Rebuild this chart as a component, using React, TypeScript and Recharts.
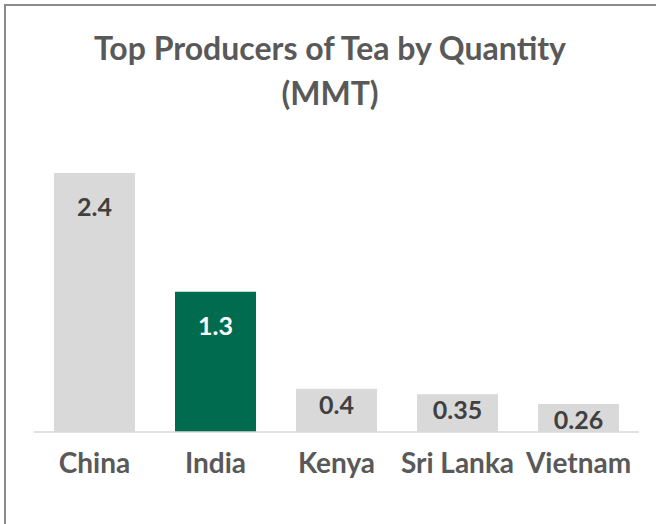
import React from 'react';
import { BarChart, Bar, XAxis, YAxis, Cell, LabelList } from 'recharts';

const countries = ['China', 'India', 'Kenya', 'Sri Lanka', 'Vietnam'];
const production = [2.4, 1.3, 0.4, 0.35, 0.26];
const highlight = 'India';

const data = countries.map((country, i) => ({ country, value: production[i] }));

const FONT = 'Lato, "Open Sans", sans-serif';

const ValueLabel = (props: any) => {
  const { x, y, width, height, value, index } = props;
  const isHighlight = countries[index] === highlight;
  const offset = height > 100 ? 33 : 15;
  return (
    <text
      x={x + width / 2}
      y={y + offset}
      textAnchor="middle"
      dominantBaseline="central"
      fontFamily={FONT}
      fontWeight={700}
      fontSize={25}
      fill={isHighlight ? '#ffffff' : '#404040'}
    >
      {value}
    </text>
  );
};

export default function App() {
  return (
    <div style={{ position: 'absolute', left: 0, top: 0, width: 656, height: 524, background: '#fff' }}>
      {/* frame: left/top dark, bottom light, no right edge */}
      <div
        style={{
          position: 'absolute',
          left: 4,
          top: 4,
          width: 660,
          height: 518,
          borderLeft: '2px solid #8a8a8a',
          borderTop: '2px solid #8a8a8a',
          borderBottom: '1px solid #c0c0c0',
        }}
      />
      <div
        style={{
          position: 'absolute',
          left: 4,
          width: 652,
          top: 25,
          textAlign: 'center',
          fontFamily: FONT,
          fontWeight: 700,
          fontSize: 32,
          lineHeight: '45px',
          color: '#595959',
        }}
      >
        Top Producers of Tea by Quantity
        <br />
        (MMT)
      </div>
      <div style={{ position: 'absolute', left: 0, top: 0 }}>
        <BarChart
          width={656}
          height={524}
          data={data}
          margin={{ top: 173, right: 17, bottom: 0, left: 34 }}
          barSize={81}
        >
          <XAxis
            dataKey="country"
            height={92}
            tickLine={false}
            tickSize={0}
            tickMargin={21}
            axisLine={{ stroke: '#d9d9d9', strokeWidth: 1.5 }}
            tick={{ fill: '#595959', fontFamily: FONT, fontWeight: 700, fontSize: 28 }}
            interval={0}
          />
          <YAxis hide domain={[0, 2.4]} allowDataOverflow />
          <Bar dataKey="value" isAnimationActive={false}>
            {data.map((d) => (
              <Cell key={d.country} fill={d.country === highlight ? '#006b4f' : '#d9d9d9'} />
            ))}
            <LabelList dataKey="value" content={ValueLabel} />
          </Bar>
        </BarChart>
      </div>
    </div>
  );
}
